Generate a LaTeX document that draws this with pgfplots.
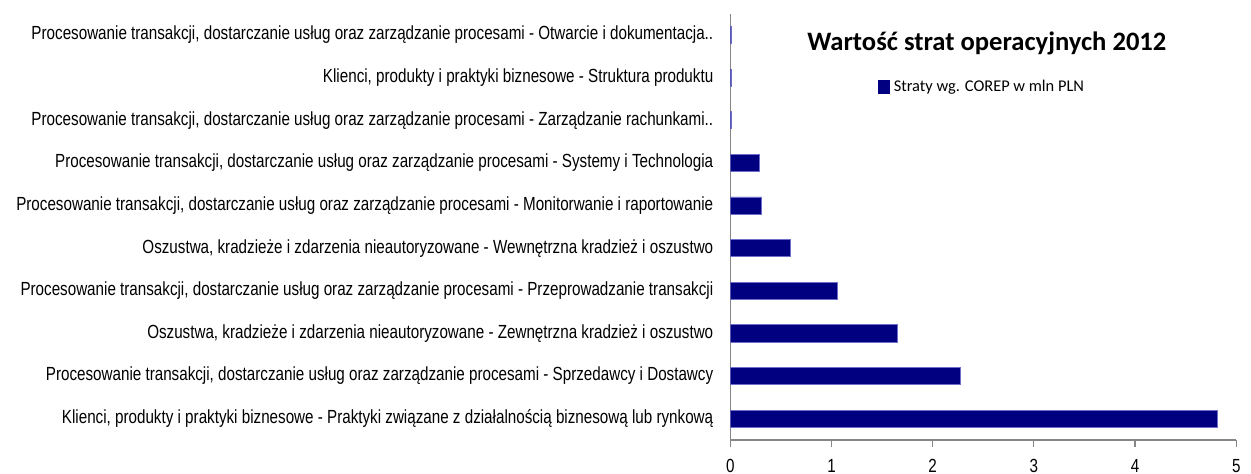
\documentclass[border=0pt]{standalone}
\usepackage{pgfplots}
\pgfplotsset{compat=1.18}
\usepackage{fontspec}
\setmainfont{Liberation Sans}
\newfontfamily\labfont[FakeStretch=0.8]{Liberation Sans}
\newfontfamily\calfont{Carlito}
\definecolor{barnavy}{RGB}{0,0,128}
\definecolor{baredge}{RGB}{110,110,200}
\definecolor{axgray}{RGB}{134,134,134}
\begin{document}
\begin{tikzpicture}
\useasboundingbox (-365.15pt,-17pt) rectangle (260.35pt,220pt);
\begin{axis}[
  scale only axis, width=253pt, height=213.2pt,
  xmin=0, xmax=5, ymin=-0.5, ymax=9.5,
  axis x line*=bottom, axis y line*=left,
  axis line style={axgray, line width=0.6pt},
  xtick={0,1,2,3,4,5}, tick align=outside, major tick length=3.3pt,
  xtick style={axgray, line width=0.6pt},
  ytick={0,...,9}, ytick style={draw=none},
  yticklabels={
    {Klienci, produkty i praktyki biznesowe - Praktyki związane z działalnością biznesową lub rynkową},
    {Procesowanie transakcji, dostarczanie usług oraz zarządzanie procesami - Sprzedawcy i Dostawcy},
    {Oszustwa, kradzieże i zdarzenia nieautoryzowane - Zewnętrzna kradzież i oszustwo},
    {Procesowanie transakcji, dostarczanie usług oraz zarządzanie procesami - Przeprowadzanie transakcji},
    {Oszustwa, kradzieże i zdarzenia nieautoryzowane - Wewnętrzna kradzież i oszustwo},
    {Procesowanie transakcji, dostarczanie usług oraz zarządzanie procesami - Monitorwanie i raportowanie},
    {Procesowanie transakcji, dostarczanie usług oraz zarządzanie procesami - Systemy i Technologia},
    {Procesowanie transakcji, dostarczanie usług oraz zarządzanie procesami - Zarządzanie rachunkami..},
    {Klienci, produkty i praktyki biznesowe - Struktura produktu},
    {Procesowanie transakcji, dostarczanie usług oraz zarządzanie procesami - Otwarcie i dokumentacja..}
  },
  yticklabel style={font=\labfont\fontsize{9.5}{10.5}\selectfont, inner sep=0pt, anchor=east, xshift=-5pt},
  xticklabel style={font=\labfont\fontsize{9.5}{10.5}\selectfont, inner sep=0pt, anchor=north, yshift=-6pt},
  /pgf/number format/assume math mode=true,
  legend style={at={(0.4994,0.828)}, anchor=center, draw=none, fill=none,
    font=\calfont\fontsize{8.2}{9}\selectfont, inner sep=0pt},
  legend image code/.code={\fill[barnavy] (0pt,-3.4pt) rectangle (5.5pt,3.4pt);},
]
\addplot[xbar, bar width=0.4, fill=barnavy, draw=baredge, line width=0.4pt]
  coordinates {(4.81,0) (2.27,1) (1.65,2) (1.06,3) (0.59,4) (0.31,5) (0.29,6) (0.01,7) (0.01,8) (0.01,9)};
\addlegendentry{Straty wg. COREP w mln PLN}
\node[font=\calfont\bfseries\fontsize{13.3}{15}\selectfont] at (rel axis cs:0.507,0.931) {Wartość strat operacyjnych 2012};
\end{axis}
\end{tikzpicture}
\end{document}
